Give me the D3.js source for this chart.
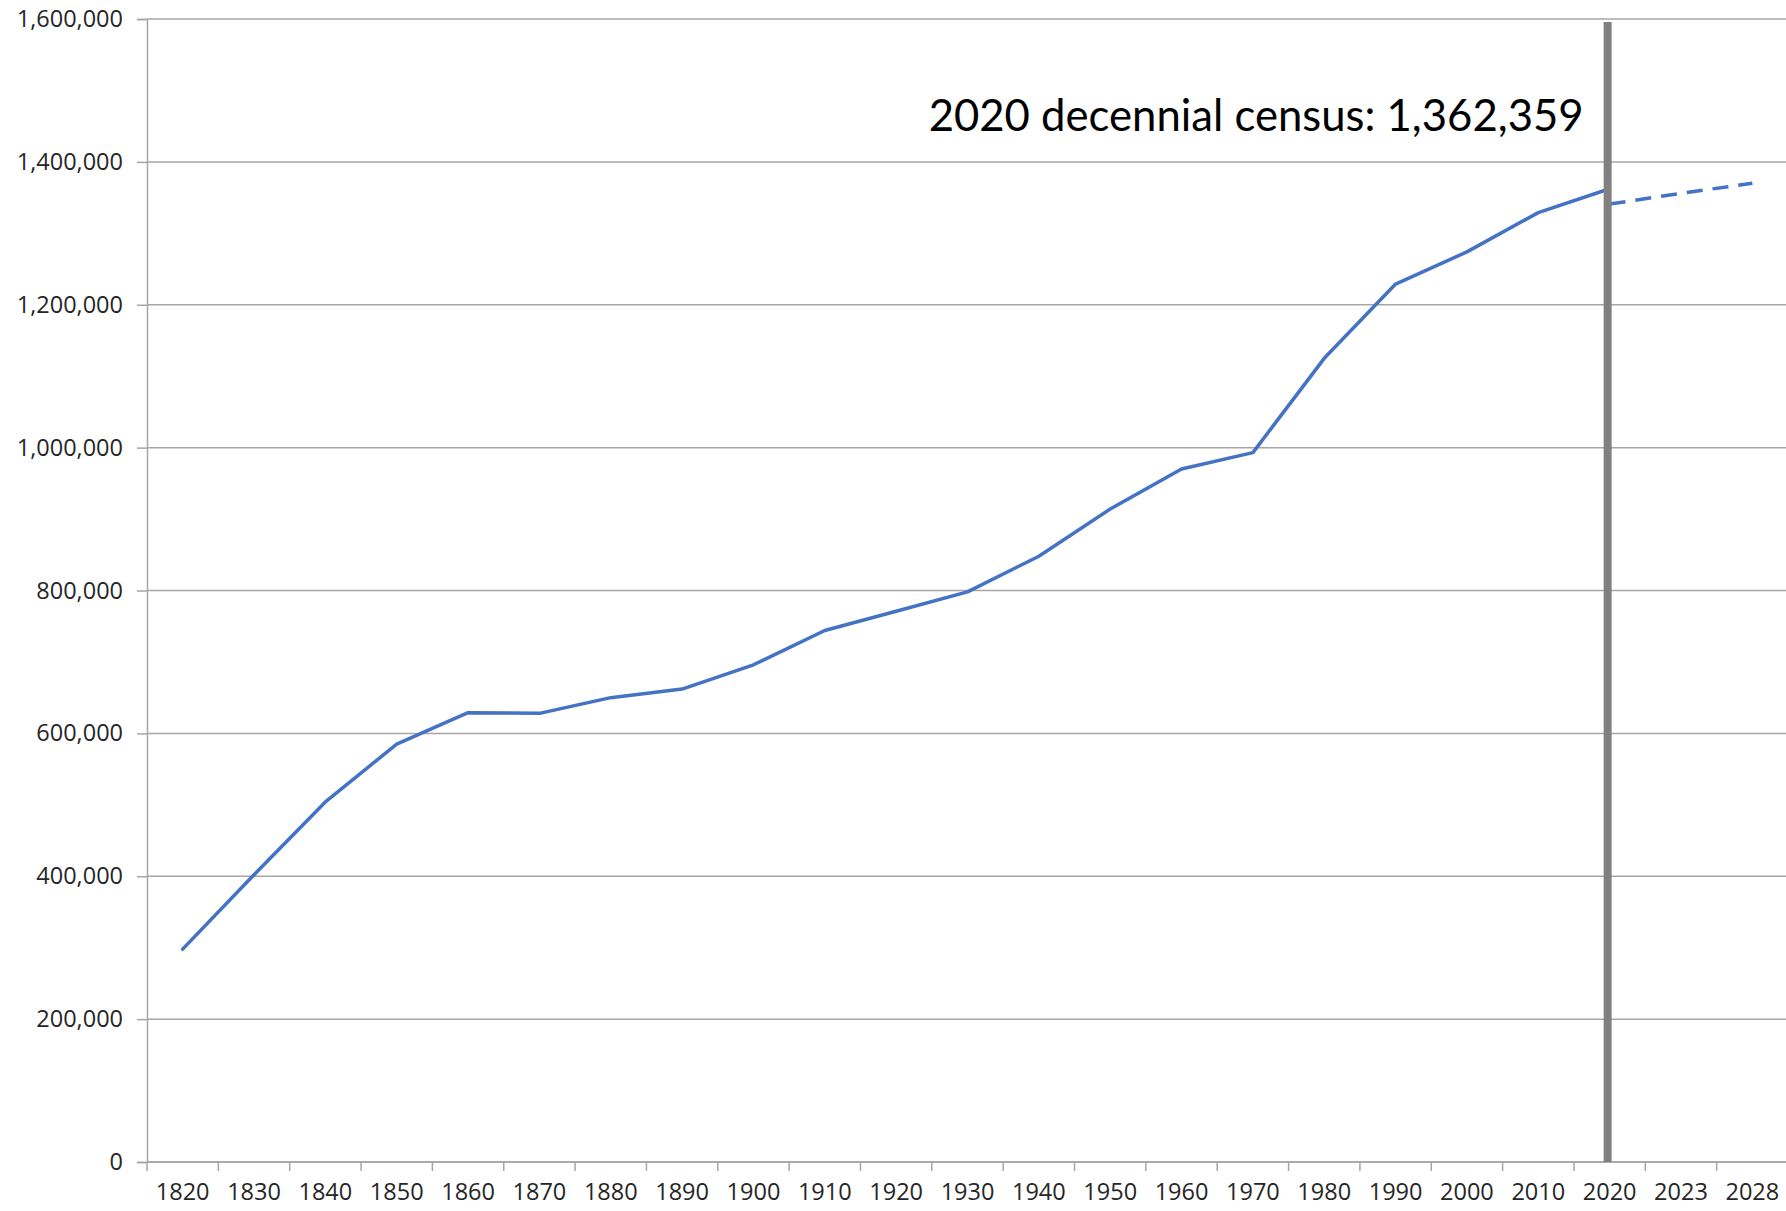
<!DOCTYPE html>
<html>
<head>
<meta charset="utf-8">
<script src="https://cdn.jsdelivr.net/npm/d3@7"></script>
<style>
  html, body { margin: 0; padding: 0; background: #fff; }
  svg { display: block; }
</style>
</head>
<body>
<div id="chart"></div>
<script>
// census counts (solid line)
var years = ["1820", "1830", "1840", "1850", "1860", "1870", "1880", "1890", "1900", "1910",
  "1920", "1930", "1940", "1950", "1960", "1970", "1980", "1990", "2000", "2010", "2020"];
var population = [298000, 402000, 504000, 585000, 629000, 628000, 650000, 662000, 696000, 744000,
  771000, 798000, 848000, 914000, 970000, 993000, 1125000, 1229000, 1274000, 1329000, 1362359];

// projection (dashed line)
var projYears = ["2020", "2023", "2028"];
var projection = [1341000, 1356000, 1370000];

var categories = years.concat(["2023", "2028"]);
var yTicks = [0, 200000, 400000, 600000, 800000, 1000000, 1200000, 1400000, 1600000];
var censusNote = "2020 decennial census: 1,362,359";

var width = 1786, height = 1211;
var margin = {top: 19, right: -2, bottom: 49, left: 147};

var svg = d3.select("#chart").append("svg")
  .attr("width", width)
  .attr("height", height);

var x = d3.scaleBand()
  .domain(categories)
  .range([margin.left, width - margin.right]);

var y = d3.scaleLinear()
  .domain([0, 1600000])
  .range([height - margin.bottom, margin.top]);

var gridColor = "#a6a6a6";
var textColor = "#262626";
var labelFont = "'Open Sans', 'Liberation Sans', sans-serif";

// horizontal gridlines
svg.append("g")
  .selectAll("line")
  .data(yTicks)
  .join("line")
  .attr("x1", margin.left)
  .attr("x2", width)
  .attr("y1", d => y(d))
  .attr("y2", d => y(d))
  .attr("stroke", gridColor)
  .attr("stroke-width", 1.5);

// y axis
var yAxis = svg.append("g")
  .attr("transform", "translate(" + margin.left + ",0)")
  .call(d3.axisLeft(y).tickValues(yTicks).tickSize(10).tickPadding(14).tickFormat(d3.format(",")));
yAxis.select(".domain").attr("stroke", gridColor).attr("stroke-width", 1.5);
yAxis.selectAll(".tick line").attr("stroke", gridColor).attr("stroke-width", 1.5);
yAxis.selectAll("text")
  .attr("fill", textColor)
  .style("font-family", labelFont)
  .style("font-size", "23.5px");

// x axis: labels at band centres, ticks at band edges
var xAxis = svg.append("g")
  .attr("transform", "translate(0," + y(0) + ")")
  .call(d3.axisBottom(x).tickSize(0).tickPadding(21));
xAxis.select(".domain").remove();
xAxis.selectAll("text")
  .attr("fill", textColor)
  .style("font-family", labelFont)
  .style("font-size", "23.5px");

svg.append("line")
  .attr("x1", margin.left)
  .attr("x2", width)
  .attr("y1", y(0))
  .attr("y2", y(0))
  .attr("stroke", gridColor)
  .attr("stroke-width", 1.5);

svg.append("g")
  .selectAll("line")
  .data(categories)
  .join("line")
  .attr("x1", d => x(d))
  .attr("x2", d => x(d))
  .attr("y1", y(0))
  .attr("y2", y(0) + 9)
  .attr("stroke", gridColor)
  .attr("stroke-width", 1.5);

var cx = d => x(d) + x.bandwidth() / 2;

var line = d3.line()
  .x(d => cx(d[0]))
  .y(d => y(d[1]));

svg.append("path")
  .datum(d3.zip(years, population))
  .attr("d", line)
  .attr("fill", "none")
  .attr("stroke", "#4472c4")
  .attr("stroke-width", 3.5)
  .attr("stroke-linejoin", "round")
  .attr("stroke-linecap", "round");

svg.append("path")
  .datum(d3.zip(projYears, projection))
  .attr("d", line)
  .attr("fill", "none")
  .attr("stroke", "#4472c4")
  .attr("stroke-width", 3.5)
  .attr("stroke-dasharray", "16,10");

// vertical marker at 2020
svg.append("line")
  .attr("x1", cx("2020") - 2)
  .attr("x2", cx("2020") - 2)
  .attr("y1", y(1600000) + 3)
  .attr("y2", y(0))
  .attr("stroke", "#808080")
  .attr("stroke-width", 8);

svg.append("text")
  .attr("x", cx("2020") - 26)
  .attr("y", y(1362359) - 58)
  .attr("text-anchor", "end")
  .attr("textLength", 655)
  .attr("lengthAdjust", "spacingAndGlyphs")
  .style("font-family", "Lato, 'Noto Sans', sans-serif")
  .style("font-size", "45px")
  .attr("fill", "#000")
  .text(censusNote);
</script>
</body>
</html>
